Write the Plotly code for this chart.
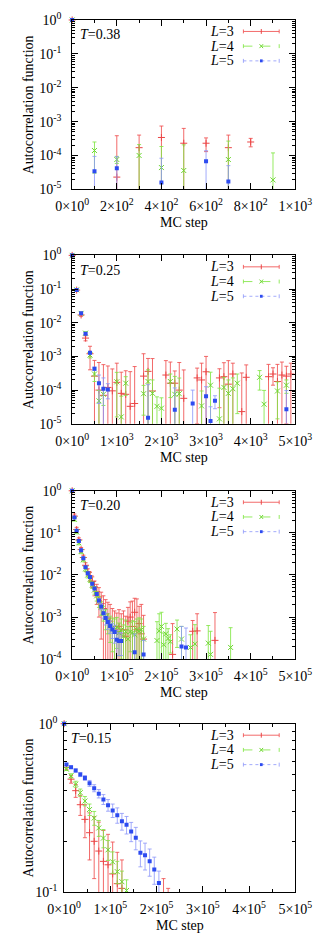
import plotly.graph_objects as go

# page is drawn with the browser's default 8px body margin, so the figure is 8px smaller
PAGE_W, PAGE_H = 332, 948
OFF = 8
W, H = PAGE_W - OFF, PAGE_H - OFF
FONT = "Liberation Serif"

# ====================== DATA ======================
# Panel 1: T=0.38 (x = MC step)
t038_L3_x = [0, 200, 300, 400, 500, 600, 700, 800]
t038_L3_y = [1.0, 2.3e-5, 1.7e-4, 3.4e-4, 2.3e-4, 2.3e-4, 1.7e-4, 2.5e-4]
t038_L3_e = [0, 3.6e-4, 2.3e-4, 4.0e-4, 4.0e-4, 1.0e-4, 2.3e-4, 7e-5]
t038_L4_x = [0, 100, 200, 300, 400, 500, 700, 900]
t038_L4_y = [1.0, 1.4e-4, 7.6e-5, 1.0e-4, 4.4e-5, 3.6e-5, 7.6e-5, 1.9e-5]
t038_L4_e = [0, 1.1e-4, 1.8e-5, 1.1e-4, 1.4e-4, 1.7e-4, 1.9e-4, 1.0e-4]
t038_L5_x = [0, 100, 200, 400, 600, 700]
t038_L5_y = [1.0, 3.4e-5, 4.2e-5, 1.6e-5, 6.8e-5, 1.7e-5]
t038_L5_e = [0, 6e-5, 5e-5, 6.7e-5, 7e-5, 3.3e-5]

# Panel 2: T=0.25 (x = MC step)
t025_L3_x = [0, 100, 200, 300, 400, 500, 600, 700, 800, 900, 1000, 1100, 1200, 1300, 1400,
             1600, 1700, 1800, 2100, 2200, 2300, 2400, 2500, 2800, 2900, 3000, 3300, 3400,
             3500, 3600, 3800, 3900, 4400, 4500, 4600, 4700, 4800, 4900]
t025_L3_y = [1.0, 0.093, 0.017, 0.0035, 0.0012, 2.6e-4, 1.0e-4, 7.0e-5, 1.2e-4, 9.5e-5,
             1.7e-4, 8.0e-5, 7.5e-5, 3.3e-5, 4.0e-5, 2.6e-4, 3.6e-4, 9.4e-5, 2.8e-4, 1.6e-4,
             1.6e-4, 1.0e-4, 5.7e-5, 2.3e-4, 2.0e-4, 3.5e-4, 2.3e-4, 2.5e-4, 1.5e-4, 3.0e-4,
             2.3e-5, 2.4e-4, 2.5e-4, 3.0e-4, 1.8e-4, 2.8e-4, 2.6e-4, 3.0e-4]
t025_L3_e = [0, 0.004, 0.0015, 0.0006, 0.0008, 5e-4, 5.6e-4, 5.0e-4, 4.0e-4, 3.3e-4,
             4.6e-4, 2.6e-4, 3.0e-4, 3.2e-4, 4.6e-4, 9.4e-4, 5.1e-4, 7.7e-4, 4.7e-4, 5.2e-4,
             2.1e-4, 5.6e-4, 3.4e-4, 2.2e-4, 4.3e-4, 6.5e-4, 2.0e-4, 4.0e-4, 6.0e-4, 3.3e-4,
             3.0e-4, 3.2e-4, 3.3e-4, 1.6e-4, 4.0e-4, 4.0e-4, 2.5e-4, 3.3e-4]
t025_L4_x = [0, 100, 200, 300, 400, 500, 600, 700, 1000, 1100, 1200, 1600, 1700, 1800, 1900,
             2000, 2200, 2300, 2400, 2900, 3100, 3300, 3400, 3500, 3600, 3700, 4200, 4300,
             4600, 4800]
t025_L4_y = [1.0, 0.095, 0.019, 0.0049, 0.0011, 3.0e-4, 4.8e-5, 7.5e-5, 1.76e-4, 1.6e-5,
             1.6e-4, 7.8e-5, 1.8e-4, 8.0e-5, 3.3e-5, 2.9e-5, 1.8e-4, 7.5e-5, 7.8e-5, 3.4e-5,
             1.4e-4, 1.4e-5, 1.2e-4, 8.0e-5, 1.1e-4, 1.6e-4, 2.4e-4, 3.8e-5, 9.4e-5, 1.4e-4]
t025_L4_e = [0, 0.004, 0.0015, 0.0005, 0.0002, 1.2e-4, 5e-5, 4e-5, 1.6e-4, 5e-5,
             9e-5, 6e-5, 2.2e-4, 1.2e-4, 3e-5, 3e-5, 1.2e-4, 1.8e-4, 1.5e-4, 6e-5,
             2.0e-4, 1e-4, 1.2e-4, 1.2e-4, 1.2e-4, 1.4e-4, 1.4e-4, 6e-5, 8e-5, 6e-5]
t025_L5_x = [0, 100, 200, 300, 400, 500, 600, 700, 800, 1700, 2300, 2700, 3000, 3100, 3200, 4800]
t025_L5_y = [1.0, 0.093, 0.019, 0.0047, 0.00128, 4.3e-4, 1.6e-4, 1.1e-4, 1.05e-4, 1.5e-5,
             2.6e-5, 4.0e-5, 6.6e-5, 1.2e-5, 4.8e-5, 2.7e-5]
t025_L5_e = [0, 0.003, 0.001, 0.0003, 0.0001, 5e-5, 1.2e-4, 1.2e-4, 5e-5, 1.3e-4,
             9e-5, 6e-5, 6e-5, 2e-5, 2e-5, 7e-5]

# Panel 3: T=0.20 (x in units of 10^3 MC steps)
t020_L3_x = [0, 5, 10, 15, 20, 25, 30, 35, 40, 45, 50, 55, 60, 65, 70, 75, 80, 85, 90, 95,
             100, 105, 110, 115, 120, 125, 130, 135, 140, 145, 150, 155, 160, 225, 270, 280, 320]
t020_L3_y = [1.0, 0.25, 0.12, 0.068, 0.040, 0.026, 0.017, 0.012, 0.0095, 0.0070, 0.0052,
             0.0040, 0.0030, 0.0021, 0.0016, 0.0012, 0.00095, 0.0008, 0.0006, 0.0005, 0.00045,
             0.0006, 0.0004, 0.0005, 0.00035, 0.0008, 0.0010, 0.0006, 0.0013, 0.0005, 0.0007,
             0.0004, 0.0003, 1.3e-4, 4.6e-4, 4.7e-4, 2.8e-4]
t020_L3_e = [0, 0.03, 0.015, 0.008, 0.005, 0.0035, 0.0025, 0.002, 0.002, 0.002, 0.002,
             0.002, 0.002, 0.0018, 0.0016, 0.0014, 0.0013, 0.0012, 0.001, 0.0009, 0.0008,
             0.0009, 0.0008, 0.0009, 0.0007, 0.0009, 0.0013, 0.0018, 0.0015, 0.0022, 0.0011,
             0.0016, 0.0008, 5.7e-4, 3.7e-4, 7.3e-4, 1.0e-3]
t020_L4_x = [0, 5, 10, 15, 20, 25, 30, 35, 40, 45, 50, 55, 60, 65, 70, 75, 80, 85, 90, 95,
             100, 105, 110, 115, 120, 125, 130, 135, 140, 145, 150, 155, 160,
             190, 195, 200, 205, 210, 215, 220, 235, 245, 265, 275, 305, 310, 355]
t020_L4_y = [1.0, 0.21, 0.105, 0.058, 0.036, 0.023, 0.014, 0.010, 0.0078, 0.0058, 0.0044,
             0.0032, 0.0024, 0.0017, 0.0013, 0.0010, 0.0008, 0.00065, 0.00055, 0.0005,
             0.00058, 0.00042, 0.0005, 0.00035, 0.00045, 0.0003, 0.00045, 0.00042, 0.00038,
             0.0005, 0.00046, 0.0005, 0.0003,
             2.77e-4, 4.7e-4, 6.0e-4, 2.2e-4, 4.0e-4, 3.1e-4, 2.6e-4, 5.2e-4, 3.0e-4, 1.9e-4,
             2.3e-4, 2.4e-4, 1.3e-4, 1.9e-4]
t020_L4_e = [0, 0.02, 0.01, 0.006, 0.004, 0.0025, 0.0018, 0.0015, 0.0012, 0.001, 0.0009,
             0.0008, 0.0007, 0.0006, 0.0005, 0.0005, 0.0004, 0.0004, 0.0004, 0.0004, 0.0004,
             0.0003, 0.0004, 0.0003, 0.0004, 0.0003, 0.0003, 0.0004, 0.0004, 0.0004, 0.0005,
             0.0004, 0.0003,
             5.0e-4, 7.3e-4, 7.0e-4, 2.0e-4, 3.1e-4, 2.2e-4, 1.2e-4, 3.3e-4, 3.0e-4, 1.9e-4,
             4.3e-4, 3.9e-4, 3.3e-4, 3.7e-4]
t020_L5_x = [0, 5, 10, 15, 20, 25, 30, 35, 40, 45, 50, 55, 60, 65, 70, 75, 80, 85, 90, 95,
             100, 105, 110, 140, 160, 245, 255]
t020_L5_y = [1.0, 0.231, 0.113, 0.0637, 0.0386, 0.0251, 0.0152, 0.0110, 0.0089, 0.00623,
             0.00476, 0.00352, 0.00246, 0.00178, 0.00124, 0.00095, 0.00076, 0.00061, 0.00051,
             0.00044, 0.00029, 0.000272, 0.000272, 1.46e-4, 1.3e-4, 2.0e-4, 1.9e-4]
t020_L5_e = [0, 0.01, 0.005, 0.003, 0.002, 0.0012, 0.0008, 0.0006, 0.0005, 0.0004, 0.0003,
             0.0003, 0.0003, 0.0003, 0.0003, 0.0003, 0.00025, 0.0002, 0.0002, 0.0002, 0.0002,
             0.00015, 0.00015, 2.5e-4, 1.5e-4, 4.0e-4, 3.6e-4]

# Panel 4: T=0.15 (x in units of 10^3 MC steps)
t015_L3_x = [0, 5, 15, 25, 35, 45, 55, 65, 75, 85, 95, 105, 115, 125, 215, 225]
t015_L3_y = [1.0, 0.550, 0.468, 0.400, 0.330, 0.270, 0.225, 0.200, 0.175, 0.152, 0.145,
             0.128, 0.112, 0.105, 0.090, 0.085]
t015_L3_e = [0, 0.015, 0.025, 0.035, 0.045, 0.06, 0.07, 0.08, 0.085, 0.08, 0.075, 0.07,
             0.06, 0.05, 0.03, 0.02]
t015_L4_x = [0, 5, 15, 25, 35, 45, 55, 65, 75, 85, 95, 105, 115, 125, 135]
t015_L4_y = [1.0, 0.537, 0.490, 0.437, 0.389, 0.347, 0.309, 0.275, 0.240, 0.209, 0.178,
             0.151, 0.132, 0.115, 0.102]
t015_L4_e = [0, 0.01, 0.014, 0.018, 0.02, 0.022, 0.024, 0.026, 0.026, 0.026, 0.024, 0.022,
             0.02, 0.018, 0.016]
t015_L5_x = [0, 5, 15, 25, 35, 45, 55, 65, 75, 85, 95, 105, 115, 125, 135, 145, 155, 165,
             175, 185, 195, 205]
t015_L5_y = [1.0, 0.573, 0.552, 0.527, 0.499, 0.476, 0.442, 0.414, 0.384, 0.355, 0.328,
             0.305, 0.286, 0.263, 0.251, 0.229, 0.210, 0.171, 0.165, 0.152, 0.136, 0.113]
t015_L5_e = [0, 0.008, 0.01, 0.012, 0.014, 0.016, 0.018, 0.02, 0.022, 0.024, 0.026, 0.028,
             0.03, 0.03, 0.03, 0.03, 0.032, 0.03, 0.03, 0.028, 0.025, 0.02]

# tick labels
p1_xtick_vals = [0, 200, 400, 600, 800, 1000]
p1_xtick_text = ["0×10<sup>0</sup>", "2×10<sup>2</sup>", "4×10<sup>2</sup>",
                 "6×10<sup>2</sup>", "8×10<sup>2</sup>", "1×10<sup>3</sup>"]
p2_xtick_vals = [0, 1000, 2000, 3000, 4000, 5000]
p2_xtick_text = ["0×10<sup>0</sup>", "1×10<sup>3</sup>", "2×10<sup>3</sup>",
                 "3×10<sup>3</sup>", "4×10<sup>3</sup>", "5×10<sup>3</sup>"]
p34_xtick_vals = [0, 100000, 200000, 300000, 400000, 500000]
p34_xtick_text = ["0×10<sup>0</sup>", "1×10<sup>5</sup>", "2×10<sup>5</sup>",
                  "3×10<sup>5</sup>", "4×10<sup>5</sup>", "5×10<sup>5</sup>"]
T_labels = ["0.38", "0.25", "0.20", "0.15"]
L_labels = [3, 4, 5]
x_title = "MC step"
y_title = "Autocorrelation function"

# ====================== STYLE / LAYOUT ======================
# panel frames in page pixels: (left, right, top, bottom)
GEOM = [(60.7, 310, 10, 182.7), (60.7, 310, 250, 421.7),
        (60.7, 310, 490, 661.7), (51.7, 310, 727.5, 899)]
STY = {
    3: dict(bar="rgba(240,80,80,0.85)", mk="rgb(235,70,70)", sym="cross-thin", size=5, dash="solid"),
    4: dict(bar="rgba(130,230,70,0.85)", mk="rgb(110,215,50)", sym="x-thin", size=5, dash="dash"),
    5: dict(bar="rgba(140,150,250,0.8)", mk="rgb(45,75,240)", sym="square", size=4, dash="dot"),
}

panels = [
    dict(series=[(3, t038_L3_x, t038_L3_y, t038_L3_e), (4, t038_L4_x, t038_L4_y, t038_L4_e),
                 (5, t038_L5_x, t038_L5_y, t038_L5_e)], xs=1,
         xr=[0, 1000], xtv=p1_xtick_vals, xtt=p1_xtick_text, xminor=100, ylo=-5),
    dict(series=[(3, t025_L3_x, t025_L3_y, t025_L3_e), (4, t025_L4_x, t025_L4_y, t025_L4_e),
                 (5, t025_L5_x, t025_L5_y, t025_L5_e)], xs=1,
         xr=[0, 5000], xtv=p2_xtick_vals, xtt=p2_xtick_text, xminor=500, ylo=-5),
    dict(series=[(3, t020_L3_x, t020_L3_y, t020_L3_e), (4, t020_L4_x, t020_L4_y, t020_L4_e),
                 (5, t020_L5_x, t020_L5_y, t020_L5_e)], xs=1000,
         xr=[0, 500000], xtv=p34_xtick_vals, xtt=p34_xtick_text, xminor=50000, ylo=-4),
    dict(series=[(3, t015_L3_x, t015_L3_y, t015_L3_e), (4, t015_L4_x, t015_L4_y, t015_L4_e),
                 (5, t015_L5_x, t015_L5_y, t015_L5_e)], xs=1000,
         xr=[0, 500000], xtv=p34_xtick_vals, xtt=p34_xtick_text, xminor=50000, ylo=-1),
]


def fx(px):
    return (px - OFF) / W


def fy(py):
    return 1 - (py - OFF) / H


fig = go.Figure()
annotations = []
shapes = []
tf = dict(family=FONT, size=14, color="black")

for i, p in enumerate(panels):
    n = "" if i == 0 else str(i + 1)
    xa, ya = "x" + n, "y" + n
    l, r, t, b = GEOM[i]
    for (L, xs, ys, es) in p["series"]:
        assert len(xs) == len(ys) == len(es)
        s = STY[L]
        xv = [v * p["xs"] for v in xs]
        mk = dict(symbol=s["sym"], size=s["size"], color=s["mk"],
                  line=dict(color=s["mk"], width=1 if L != 5 else 0))
        fig.add_trace(go.Scatter(
            x=xv[1:], y=ys[1:], mode="markers", xaxis=xa, yaxis=ya, marker=mk,
            error_y=dict(type="data", array=es[1:], visible=True, color=s["bar"],
                         thickness=1, width=2),
            showlegend=False, hoverinfo="skip"))
        fig.add_trace(go.Scatter(
            x=xv[:1], y=ys[:1], mode="markers", xaxis=xa, yaxis=ya, marker=mk,
            cliponaxis=False, showlegend=False, hoverinfo="skip"))

    xminor_vals = [k * p["xminor"] for k in range(int(p["xr"][1] / p["xminor"]) + 1)
                   if k * p["xminor"] not in p["xtv"]]
    fig.layout["xaxis" + n] = dict(
        domain=[fx(l), fx(r)], anchor=ya, range=p["xr"], tickmode="array",
        tickvals=p["xtv"], ticktext=p["xtt"], ticks="inside", ticklen=6, tickwidth=1,
        tickcolor="black", showline=True, mirror="ticks", linecolor="black", linewidth=1,
        showgrid=False, zeroline=False, tickfont=tf, ticklabelstandoff=4,
        minor=dict(tickvals=xminor_vals, ticks="inside", ticklen=3, tickcolor="black",
                   showgrid=False))
    yt = list(range(p["ylo"], 1))
    ymin = [m * 10 ** k for k in range(p["ylo"], 0) for m in range(2, 10)]
    fig.layout["yaxis" + n] = dict(
        domain=[fy(b), fy(t)], anchor=xa, type="log", range=[p["ylo"], 0], tickmode="array",
        tickvals=[10 ** k for k in yt],
        ticktext=["10<sup>%d</sup>" % k for k in yt],
        ticks="inside", ticklen=6, tickwidth=1, tickcolor="black", showline=True,
        mirror="ticks", linecolor="black", linewidth=1, showgrid=False, zeroline=False,
        tickfont=tf, ticklabelstandoff=7 if i < 3 else 3,
        minor=dict(tickvals=ymin, ticks="inside", ticklen=3, tickcolor="black",
                   showgrid=False))

    # panel texts
    annotations.append(dict(text="<i>T</i>=" + T_labels[i], x=fx(l + 6), y=fy(t + 15),
                            xref="paper", yref="paper", xanchor="left", yanchor="middle",
                            showarrow=False, font=tf))
    annotations.append(dict(text=x_title, x=fx((l + r) / 2), y=fy(b + 34), xref="paper",
                            yref="paper", xanchor="center", yanchor="middle",
                            showarrow=False, font=tf))
    annotations.append(dict(text=y_title, x=fx(12), y=fy((t + b) / 2), xref="paper",
                            yref="paper", xanchor="center", yanchor="middle", textangle=-90,
                            showarrow=False, font=tf))
    # key
    for j, L in enumerate(L_labels):
        s = STY[L]
        yy = t + 11.7 + 15 * j
        annotations.append(dict(text="<i>L</i>=%d" % L, x=fx(244), y=fy(yy), xref="paper",
                                yref="paper", xanchor="right", yanchor="middle",
                                showarrow=False, font=tf))
        ln = dict(color=s["bar"], width=1)
        shapes.append(dict(type="line", xref="paper", yref="paper", x0=fx(252), x1=fx(292),
                           y0=fy(yy), y1=fy(yy), line=dict(color=s["bar"], width=1, dash=s["dash"])))
        for cx in (252, 292):
            shapes.append(dict(type="line", xref="paper", yref="paper", x0=fx(cx), x1=fx(cx),
                               y0=fy(yy - 2), y1=fy(yy + 2), line=ln))
        mln = dict(color=s["mk"], width=1)
        if L == 3:
            shapes.append(dict(type="line", xref="paper", yref="paper", x0=fx(272), x1=fx(272),
                               y0=fy(yy - 2.5), y1=fy(yy + 2.5), line=mln))
        elif L == 4:
            shapes.append(dict(type="line", xref="paper", yref="paper", x0=fx(270), x1=fx(274),
                               y0=fy(yy - 2), y1=fy(yy + 2), line=mln))
            shapes.append(dict(type="line", xref="paper", yref="paper", x0=fx(270), x1=fx(274),
                               y0=fy(yy + 2), y1=fy(yy - 2), line=mln))
        else:
            shapes.append(dict(type="rect", xref="paper", yref="paper", x0=fx(270.5), x1=fx(273.5),
                               y0=fy(yy - 1.5), y1=fy(yy + 1.5), line=dict(width=0),
                               fillcolor=s["mk"]))

fig.update_layout(width=W, height=H, margin=dict(l=0, r=0, t=0, b=0), autosize=False,
                  paper_bgcolor="white", plot_bgcolor="white", showlegend=False,
                  annotations=annotations, shapes=shapes, font=tf)
fig.write_html("out.html")
